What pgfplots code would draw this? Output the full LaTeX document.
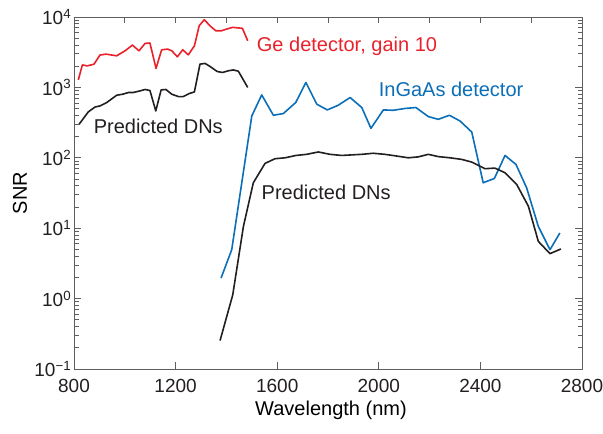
\documentclass[border=0pt]{standalone}
\usepackage{fontspec}
\setmainfont{Liberation Sans}
\usepackage{pgfplots}
\pgfplotsset{compat=1.18}
\definecolor{gered}{HTML}{E8212B}
\definecolor{ingaasblue}{HTML}{0B6EB8}
\definecolor{dnblack}{HTML}{231F20}
\definecolor{axgray}{HTML}{5E5E5E}

\begin{document}
\begin{tikzpicture}[font=\fontsize{20}{24}\selectfont]
\useasboundingbox (-74pt,-65pt) rectangle (529pt,369pt);
% top ticks every 200 nm
\begin{axis}[
    scale only axis, width=508pt, height=352pt,
    xmin=800, xmax=2800, ymin=0, ymax=1,
    hide y axis,
    xtick={1000,1200,...,2600},
    xtick pos=right, xticklabels={},
    tick align=inside,
    major tick length=6pt,
    axis line style={axgray, line width=0.9pt},
    every tick/.style={axgray, line width=0.9pt},
]
\end{axis}
\begin{axis}[
    scale only axis, width=508pt, height=352pt,
    xmin=800, xmax=2800,
    ymode=log, ymin=0.1, ymax=1e4,
    xtick={800,1200,...,2800},
    xtick pos=left,
    ytick={0.1,1,10,100,1000,10000},
    yticklabels={10\textsuperscript{−1},10\textsuperscript{0},10\textsuperscript{1},10\textsuperscript{2},10\textsuperscript{3},10\textsuperscript{4}},
    ytick pos=both, yticklabel pos=left,
    tick align=inside,
    major tick length=7pt, minor tick length=4.5pt,
    axis line style={axgray, line width=0.9pt},
    every tick/.style={axgray, line width=0.9pt},
    /pgf/number format/assume math mode=true,
    /pgf/number format/set thousands separator={},
    tick label style={font=\fontsize{19}{22}\selectfont, text=dnblack},
    xticklabel style={inner sep=0pt, yshift=-9pt},
    yticklabel style={inner sep=0pt, xshift=-2pt},
    every axis x label/.style={at={(rel axis cs:0.5,0)}, yshift=-41pt, xshift=3pt, anchor=center},
    every axis y label/.style={at={(rel axis cs:0,0.5)}, xshift=-54pt, rotate=90, anchor=center},
    xlabel={Wavelength (nm)},
    ylabel={SNR},
    line width=1.6pt,
    line join=round,
]
% Ge detector, gain 10
\addplot[gered] coordinates {
 (817,1280) (833,2090) (852,2020) (879,2140) (902,2880) (926,2970) (968,2810)
 (1001,3310) (1030,3990) (1056,3310) (1080,4220) (1099,4270) (1123,1860)
 (1145,3420) (1169,3500) (1185,3310) (1207,2720) (1228,3420) (1250,2900)
 (1274,3890) (1293,7520) (1313,9160) (1335,7520) (1358,6380) (1381,6380)
 (1401,6740) (1425,7130) (1463,6900) (1484,4590)
};
% Predicted DNs (Ge)
\addplot[dnblack] coordinates {
 (820,299) (856,448) (883,527) (902,545) (929,610) (968,774) (992,800)
 (1014,846) (1033,846) (1060,892) (1080,934) (1099,904) (1122,463)
 (1143,922) (1162,934) (1185,800) (1211,741) (1230,741) (1254,818)
 (1274,863) (1296,2140) (1316,2190) (1335,1990) (1364,1680) (1385,1630)
 (1407,1720) (1427,1770) (1447,1700) (1484,998)
};
% InGaAs detector
\addplot[ingaasblue] coordinates {
 (1379,1.96) (1421,4.95) (1500,393) (1539,782) (1585,402) (1624,425)
 (1673,610) (1713,1175) (1756,577) (1797,479) (1840,557) (1887,718)
 (1933,518) (1969,262) (2018,479) (2057,473) (2103,502) (2146,518)
 (2195,385) (2234,352) (2278,402) (2320,333) (2366,232) (2411,44.2)
 (2455,50.9) (2497,108) (2540,80.5) (2582,37.5) (2628,10.6) (2674,4.95)
 (2713,8.57)
};
% Predicted DNs (InGaAs)
\addplot[dnblack] coordinates {
 (1375,0.253) (1425,1.13) (1467,10.6) (1506,44.2) (1552,83.2) (1591,97)
 (1631,100) (1674,108) (1716,112) (1762,121) (1808,112) (1854,108)
 (1933,112) (1978,116) (2024,112) (2070,106) (2116,100) (2155,103)
 (2195,112) (2234,104) (2280,100) (2326,95) (2366,86.9) (2418,70)
 (2457,71.4) (2497,61.3) (2543,41.8) (2589,20.5) (2628,6.5) (2674,4.35)
 (2717,5.07)
};
\node[anchor=base west, text=gered, inner sep=0pt] at (axis cs:1517,3280) {Ge detector, gain 10};
\node[anchor=base west, text=ingaasblue, inner sep=0pt] at (axis cs:1997,750) {InGaAs detector};
\node[anchor=base west, text=dnblack, inner sep=0pt] at (axis cs:875,223) {Predicted DNs};
\node[anchor=base west, text=dnblack, inner sep=0pt] at (axis cs:1536,25.5) {Predicted DNs};
\end{axis}
\end{tikzpicture}
\end{document}
